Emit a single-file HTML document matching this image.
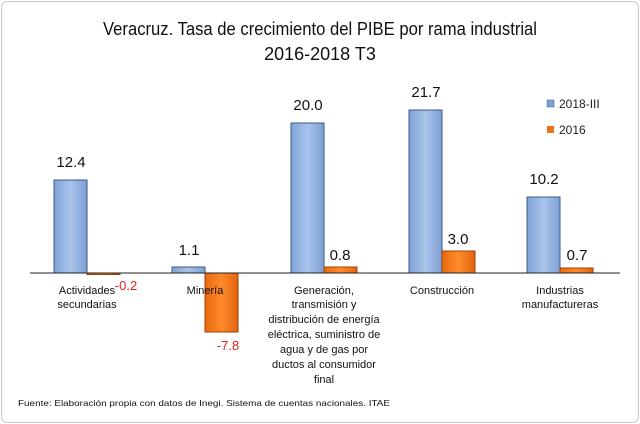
<!DOCTYPE html>
<html><head><meta charset="utf-8"><style>
body{margin:0;background:#fff;}
svg{display:block;font-family:"Liberation Sans",sans-serif;}
</style></head><body>
<svg width="640" height="424" viewBox="0 0 640 424">
<defs>
<linearGradient id="b" x1="0" x2="1" y1="0" y2="0"><stop offset="0" stop-color="#7fa3d6"/><stop offset="0.5" stop-color="#a9c4ec"/><stop offset="1" stop-color="#7d9fd2"/></linearGradient>
<linearGradient id="o" x1="0" x2="1" y1="0" y2="0"><stop offset="0" stop-color="#e86a10"/><stop offset="0.5" stop-color="#ff8a2a"/><stop offset="1" stop-color="#e06510"/></linearGradient>
</defs>
<rect x="1.5" y="1.5" width="637" height="421" rx="6" fill="#fff" stroke="#c8c8c8"/>
<text x="103" y="35" font-size="18" textLength="434" lengthAdjust="spacingAndGlyphs" fill="#111">Veracruz. Tasa de crecimiento del PIBE por rama industrial</text>
<text x="320" y="60" font-size="18" text-anchor="middle" fill="#111">2016-2018 T3</text>
<g stroke="#3c5a88" stroke-width="1">
<rect x="54" y="180" width="33" height="93" fill="url(#b)"/>
<rect x="172" y="267" width="33" height="6" fill="url(#b)"/>
<rect x="291" y="123" width="33" height="150" fill="url(#b)"/>
<rect x="409" y="110" width="33" height="163" fill="url(#b)"/>
<rect x="527" y="197" width="33" height="76" fill="url(#b)"/>
</g>
<g stroke="#a04000" stroke-width="1">
<rect x="87" y="273" width="33" height="1.5" fill="url(#o)"/>
<rect x="205" y="273" width="33" height="59" fill="url(#o)"/>
<rect x="324" y="267" width="33" height="6" fill="url(#o)"/>
<rect x="442" y="251" width="33" height="22" fill="url(#o)"/>
<rect x="560" y="268" width="33" height="5" fill="url(#o)"/>
</g>
<line x1="30" y1="273" x2="620" y2="273" stroke="#222" stroke-width="1"/>
<g font-size="15" fill="#111" text-anchor="middle">
<text x="71" y="167">12.4</text><text x="189" y="255">1.1</text>
<text x="308" y="110">20.0</text><text x="426" y="97">21.7</text><text x="544" y="184">10.2</text>
<text x="340" y="260">0.8</text><text x="458" y="244">3.0</text><text x="577" y="260">0.7</text>
</g>
<g font-size="13" fill="#e02020" text-anchor="middle">
<text x="126" y="290">-0.2</text><text x="228" y="350">-7.8</text>
</g>
<g font-size="11" fill="#111" text-anchor="middle">
<text x="87" y="294">Actividades</text><text x="87" y="308">secundarias</text>
<text x="205" y="294">Minería</text>
<text x="324" y="294">Generación,</text><text x="324" y="308">transmisión y</text><text x="324" y="323">distribución de energía</text><text x="324" y="338">eléctrica, suministro de</text><text x="324" y="353">agua y de gas por</text><text x="324" y="368">ductos al consumidor</text><text x="324" y="383">final</text>
<text x="442" y="294">Construcción</text>
<text x="560" y="294">Industrias</text><text x="560" y="308">manufactureras</text>
</g>
<rect x="547" y="100" width="7" height="7" fill="#7fa3d6" stroke="#3c5a88" stroke-width="0.5"/>
<text x="559" y="108" font-size="12" fill="#222">2018-III</text>
<rect x="547" y="126" width="7" height="7" fill="#ee7318"/>
<text x="559" y="134" font-size="12" fill="#222">2016</text>
<text x="18" y="406" font-size="8.5" textLength="372" lengthAdjust="spacingAndGlyphs" fill="#111">Fuente: Elaboración propia con datos de Inegi. Sistema de cuentas nacionales. ITAE</text>
</svg>
</body></html>
